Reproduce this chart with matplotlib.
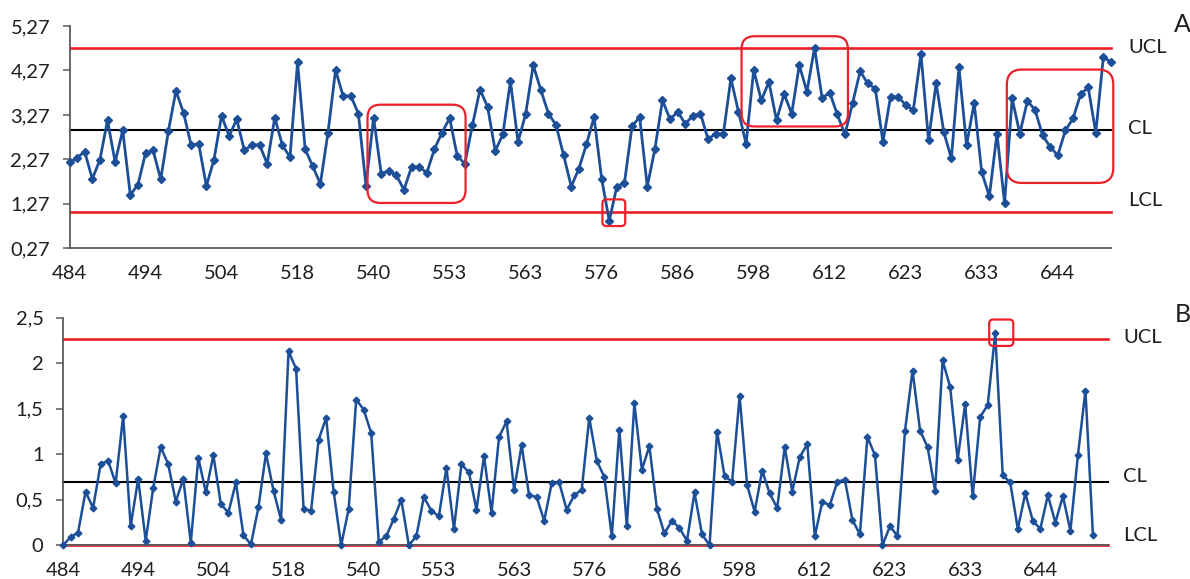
import numpy as np
import matplotlib
matplotlib.use("Agg")
import matplotlib.pyplot as plt
import matplotlib.transforms as mtransforms
from matplotlib.patches import FancyBboxPatch
from matplotlib.ticker import FixedLocator, FuncFormatter

# ---- data -------------------------------------------------------------
sample_labels = ["484", "494", "504", "518", "540", "553", "563",
                 "576", "586", "598", "612", "623", "633", "644"]

individual_values = [
    2.20, 2.31, 2.44, 1.83, 2.26, 3.15, 2.21, 2.92, 1.47, 1.70,
    2.41, 2.47, 1.82, 2.90, 3.81, 3.32, 2.59, 2.62, 1.67, 2.26,
    3.25, 2.80, 3.17, 2.47, 2.60, 2.60, 2.17, 3.21, 2.59, 2.32,
    4.45, 2.50, 2.11, 1.72, 2.87, 4.28, 3.69, 3.70, 3.30, 1.68,
    3.21, 1.95, 2.01, 1.91, 1.59, 2.10, 2.10, 1.97, 2.50, 2.87,
    3.20, 2.35, 2.17, 3.04, 3.84, 3.45, 2.46, 2.83, 4.03, 2.66,
    3.29, 4.39, 3.83, 3.30, 3.04, 2.36, 1.66, 2.06, 2.61, 3.22,
    1.83, 0.89, 1.66, 1.74, 3.02, 3.22, 1.66, 2.50, 3.60, 3.17,
    3.34, 3.07, 3.25, 3.30, 2.72, 2.85, 2.83, 4.09, 3.34, 2.62,
    4.28, 3.60, 4.01, 3.15, 3.74, 3.30, 4.39, 3.79, 4.78, 3.65,
    3.77, 3.28, 2.83, 3.53, 4.25, 3.98, 3.86, 2.66, 3.68, 3.68,
    3.49, 3.38, 4.64, 2.70, 3.99, 2.89, 2.29, 4.34, 2.59, 3.54,
    1.98, 1.44, 2.85, 1.29, 3.64, 2.85, 3.58, 3.39, 2.81, 2.55,
    2.36, 2.92, 3.19, 3.73, 3.89, 2.87, 4.58, 4.45,
]

moving_range = [
    0.00, 0.09, 0.14, 0.59, 0.41, 0.89, 0.93, 0.68, 1.42, 0.21,
    0.73, 0.05, 0.63, 1.08, 0.89, 0.48, 0.73, 0.03, 0.96, 0.58,
    0.99, 0.45, 0.36, 0.69, 0.11, 0.01, 0.42, 1.01, 0.60, 0.28,
    2.13, 1.94, 0.40, 0.38, 1.16, 1.40, 0.59, 0.00, 0.40, 1.60,
    1.49, 1.23, 0.04, 0.10, 0.29, 0.50, 0.00, 0.10, 0.53, 0.38,
    0.32, 0.85, 0.18, 0.89, 0.80, 0.39, 0.98, 0.36, 1.19, 1.36,
    0.61, 1.10, 0.55, 0.53, 0.27, 0.68, 0.69, 0.39, 0.55, 0.61,
    1.40, 0.93, 0.75, 0.10, 1.27, 0.21, 1.56, 0.83, 1.09, 0.40,
    0.13, 0.27, 0.19, 0.05, 0.58, 0.12, 0.00, 1.25, 0.76, 0.70,
    1.64, 0.66, 0.37, 0.82, 0.57, 0.41, 1.08, 0.59, 0.97, 1.11,
    0.10, 0.48, 0.44, 0.70, 0.72, 0.28, 0.12, 1.19, 0.99, 0.00,
    0.21, 0.10, 1.26, 1.92, 1.26, 1.08, 0.60, 2.03, 1.74, 0.94,
    1.55, 0.54, 1.41, 1.54, 2.33, 0.77, 0.69, 0.18, 0.57, 0.27,
    0.18, 0.55, 0.25, 0.54, 0.16, 0.99, 1.70, 0.11,
]

# control limits (centre line and 3-sigma limits)
x_limits = {"UCL": 4.78, "CL": 2.93, "LCL": 1.08}
mr_limits = {"UCL": 2.27, "CL": 0.69, "LCL": 0.00}

x_yticks = [0.27, 1.27, 2.27, 3.27, 4.27, 5.27]
mr_yticks = [0.0, 0.5, 1.0, 1.5, 2.0, 2.5]

# highlighted runs: (first x, last x, low y, high y, corner radius px)
x_highlights = [
    (39.2, 52.1, 1.29, 3.50, 13),
    (70.1, 73.1, 0.77, 1.37, 4),
    (88.4, 102.4, 3.01, 5.04, 13),
    (123.3, 137.3, 1.74, 4.29, 15),
]
mr_highlights = [
    (123.2, 126.4, 2.19, 2.48, 4),
]

# ---- style ------------------------------------------------------------
BLUE = "#1c4f97"
RED = "#ec2028"
AXIS = "#5a5a5a"
TEXT = "#1e1e1e"
FONT = ["Lato", "DejaVu Sans"]
plt.rcParams["font.family"] = FONT
plt.rcParams["font.size"] = 14
plt.rcParams["text.color"] = TEXT

W, H = 1190, 579
fig = plt.figure(figsize=(W / 100, H / 100), dpi=100)
fig.patch.set_facecolor("white")


def axes_px(left, top, right, bottom):
    return fig.add_axes([left / W, 1 - bottom / H, (right - left) / W, (bottom - top) / H])


def style_axes(ax, yticks, fmt):
    for side in ("top", "right"):
        ax.spines[side].set_visible(False)
    for side in ("left", "bottom"):
        ax.spines[side].set_color(AXIS)
        ax.spines[side].set_linewidth(1.3)
    ax.yaxis.set_major_locator(FixedLocator(yticks))
    ax.yaxis.set_major_formatter(FuncFormatter(fmt))
    ax.tick_params(axis="y", direction="out", length=5, width=1.1, color=AXIS,
                   pad=9, labelsize=14.5, labelcolor=TEXT)
    ax.tick_params(axis="x", length=0, pad=12, labelsize=14.5, labelcolor=TEXT)
    ax.set_xticks(np.arange(len(sample_labels)) * 10)
    ax.set_xticklabels(sample_labels)


def highlight(ax, boxes):
    pos = ax.get_position()
    xr = ax.get_xlim()
    yr = ax.get_ylim()
    px_x = pos.width * W / (xr[1] - xr[0])
    px_y = pos.height * H / (yr[1] - yr[0])
    for x0, x1, y0, y1, r in boxes:
        p = FancyBboxPatch((x0, y0), x1 - x0, y1 - y0,
                           boxstyle=f"round,pad=0,rounding_size={r / px_x}",
                           mutation_aspect=px_x / px_y,
                           fill=False, edgecolor=RED, linewidth=1.6,
                           clip_on=False, zorder=5)
        ax.add_patch(p)


def limit_lines(ax, limits, x_off, y_offs):
    trans = mtransforms.blended_transform_factory(ax.transAxes, ax.transData)
    for name, val in limits.items():
        color = "black" if name == "CL" else RED
        lw = 1.5 if name == "CL" else 1.9
        ax.axhline(val, color=color, linewidth=lw, zorder=2, clip_on=False)
        ax.annotate(name, xy=(1, val), xycoords=trans,
                    xytext=(x_off, y_offs[name]), textcoords="offset points",
                    ha="left", va="center", fontsize=14.5, color=TEXT,
                    annotation_clip=False)


# ---- individuals chart (A) ------------------------------------------
ax1 = axes_px(69.5, 26, 1111, 248.3)
xi = np.arange(len(individual_values))
ax1.plot(xi, individual_values, color=BLUE, linewidth=2.0, marker="D",
         markersize=4.5, markerfacecolor=BLUE, markeredgecolor=BLUE,
         zorder=4, clip_on=False)
ax1.set_xlim(0, len(individual_values) - 1)
ax1.set_ylim(x_yticks[0], x_yticks[-1])
style_axes(ax1, x_yticks, lambda v, _=None: f"{v:.2f}".replace(".", ","))
limit_lines(ax1, x_limits, 12.2, {"UCL": 0, "CL": 1, "LCL": 8.4})
highlight(ax1, x_highlights)

# ---- moving range chart (B) -----------------------------------------
ax2 = axes_px(63, 317.7, 1108, 545.3)
xm = np.arange(len(moving_range))
ax2.plot(xm, moving_range, color=BLUE, linewidth=1.8, marker="D",
         markersize=3.4, markerfacecolor=BLUE, markeredgecolor=BLUE,
         zorder=4, clip_on=False)
ax2.set_xlim(0, len(moving_range) + 1)
ax2.set_ylim(mr_yticks[0], mr_yticks[-1])
style_axes(ax2, mr_yticks, lambda v, _=None: f"{v:g}".replace(".", ","))
limit_lines(ax2, mr_limits, 10.8, {"UCL": 0.7, "CL": 4.3, "LCL": 7.2})
highlight(ax2, mr_highlights)

# panel letters
fig.text(1174 / W, 1 - 25 / H, "A", fontsize=18, ha="left", va="center", color=TEXT)
fig.text(1175 / W, 1 - 315 / H, "B", fontsize=18, ha="left", va="center", color=TEXT)

fig.savefig("out.png", dpi=100, facecolor="white")
